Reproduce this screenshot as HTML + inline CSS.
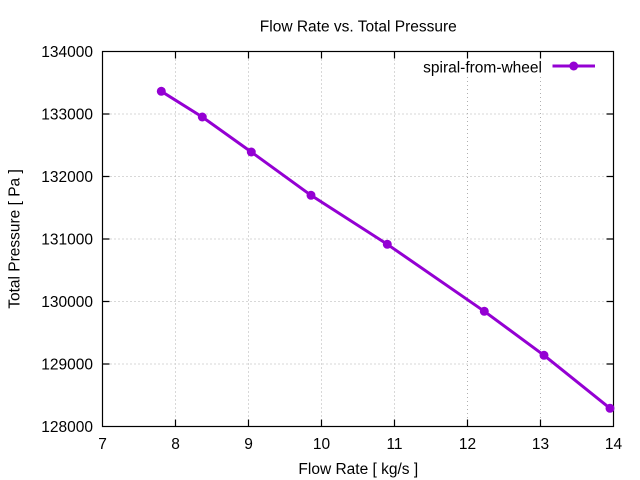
<!DOCTYPE html>
<html><head><meta charset="utf-8"><style>
html,body{margin:0;padding:0;background:#fff;}
svg{display:block;}
text{font-family:"Liberation Sans",Arial,sans-serif;font-size:15.5px;fill:#000;}
</style></head><body>
<svg width="640" height="480" viewBox="0 0 640 480" xmlns="http://www.w3.org/2000/svg">
<rect width="640" height="480" fill="#fff"/>
<g stroke="#b0b0b0" stroke-width="1" stroke-dasharray="1,3" fill="none">
<line x1="175.5" y1="51.5" x2="175.5" y2="426.5"/>
<line x1="248.5" y1="51.5" x2="248.5" y2="426.5"/>
<line x1="321.5" y1="51.5" x2="321.5" y2="426.5"/>
<line x1="394.5" y1="51.5" x2="394.5" y2="426.5"/>
<line x1="467.5" y1="77" x2="467.5" y2="426.5"/>
<line x1="540.5" y1="77" x2="540.5" y2="426.5"/>
<line x1="102.5" y1="114" x2="613.5" y2="114"/>
<line x1="102.5" y1="176.5" x2="613.5" y2="176.5"/>
<line x1="102.5" y1="239" x2="613.5" y2="239"/>
<line x1="102.5" y1="301.5" x2="613.5" y2="301.5"/>
<line x1="102.5" y1="364" x2="613.5" y2="364"/>
</g>
<g stroke="#000" stroke-width="1.2" fill="none">
<rect x="102.5" y="51.5" width="511" height="375"/>
<path d="M175.5 426.5v-7M248.5 426.5v-7M321.5 426.5v-7M394.5 426.5v-7M467.5 426.5v-7M540.5 426.5v-7
M175.5 51.5v7M248.5 51.5v7M321.5 51.5v7M394.5 51.5v7M467.5 51.5v7M540.5 51.5v7
M102.5 114h7M102.5 176.5h7M102.5 239h7M102.5 301.5h7M102.5 364h7
M613.5 114h-7M613.5 176.5h-7M613.5 239h-7M613.5 301.5h-7M613.5 364h-7"/>
</g>
<g text-anchor="end">
<text x="93" y="57">134000</text>
<text x="93" y="119.5">133000</text>
<text x="93" y="182">132000</text>
<text x="93" y="244.5">131000</text>
<text x="93" y="307">130000</text>
<text x="93" y="369.5">129000</text>
<text x="93" y="432">128000</text>
</g>
<g text-anchor="middle">
<text x="102.5" y="449">7</text>
<text x="175.5" y="449">8</text>
<text x="248.5" y="449">9</text>
<text x="321.5" y="449">10</text>
<text x="394.5" y="449">11</text>
<text x="467.5" y="449">12</text>
<text x="540.5" y="449">13</text>
<text x="613.5" y="449">14</text>
<text x="358.3" y="31.5">Flow Rate vs. Total Pressure</text>
<text x="358.3" y="474">Flow Rate [ kg/s ]</text>
<text transform="translate(19.5,239) rotate(-90)" x="0" y="0">Total Pressure [ Pa ]</text>
</g>
<text x="542" y="72.5" text-anchor="end">spiral-from-wheel</text>
<g stroke="#9400d3" stroke-width="3" fill="none" stroke-linejoin="round">
<line x1="552.5" y1="66" x2="595" y2="66"/>
<polyline points="161.3,91.3 202.3,117 251.3,152 311,195.3 387.3,244.3 484.3,311.3 544,355.3 610,408.3"/>
</g>
<g fill="#9400d3">
<circle cx="573.7" cy="66" r="4.5"/>
<circle cx="161.3" cy="91.3" r="4.5"/>
<circle cx="202.3" cy="117" r="4.5"/>
<circle cx="251.3" cy="152" r="4.5"/>
<circle cx="311" cy="195.3" r="4.5"/>
<circle cx="387.3" cy="244.3" r="4.5"/>
<circle cx="484.3" cy="311.3" r="4.5"/>
<circle cx="544" cy="355.3" r="4.5"/>
<circle cx="610" cy="408.3" r="4.5"/>
</g>
</svg>
</body></html>
